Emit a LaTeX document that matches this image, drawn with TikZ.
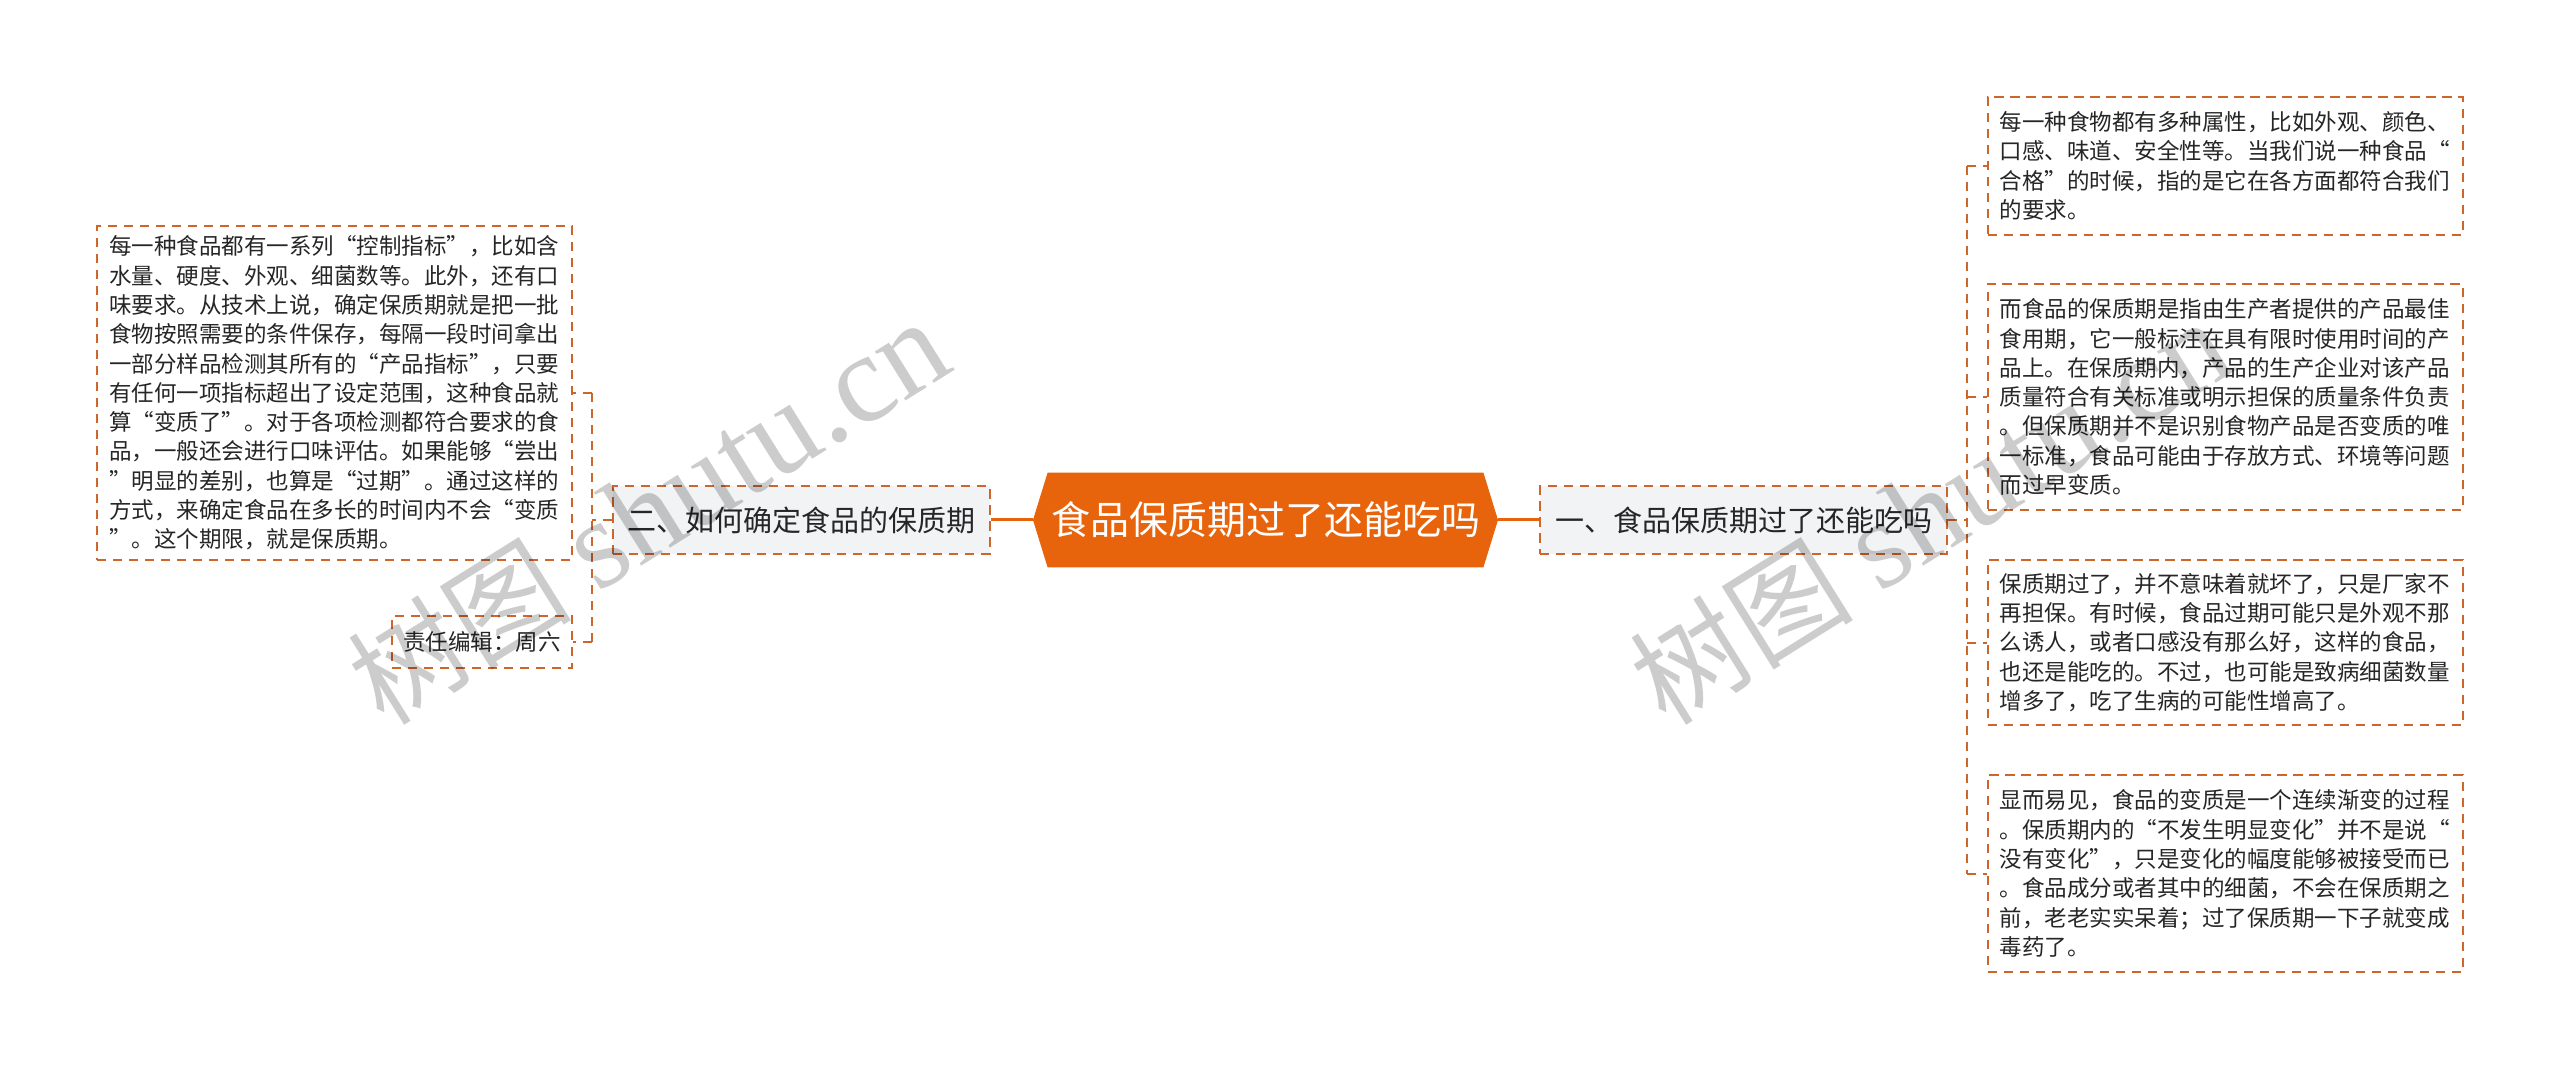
\documentclass[tikz,border=0pt]{standalone}
\usepackage{fontspec}
\setmainfont{Noto Sans CJK SC}[RawFeature=+fwid]
\newfontfamily\wmfont{Liberation Serif}
\usetikzlibrary{calc}
\pgfdeclarelayer{bg}
\pgfsetlayers{bg,main}
\definecolor{orangec}{RGB}{232,100,12}
\definecolor{borderc}{RGB}{204,102,45}
\definecolor{branchfill}{RGB}{241,243,245}
\definecolor{textc}{RGB}{38,38,38}
\newcommand\leaffont{\fontsize{11.25pt}{14.65pt}\selectfont}
\newcommand\branchfont{\fontsize{14.5pt}{17pt}\selectfont}
\newcommand\rootfont{\fontsize{19.5pt}{22pt}\selectfont}
\newcommand\wmtext{树图\hspace{14pt}{\wmfont\fontsize{63pt}{68pt}\selectfont shutu.cn}}
\tikzset{
  dashbox/.style={draw=borderc, line width=1pt, dash pattern=on 4.7pt off 3.3pt, inner sep=0pt},
  leaf/.style={dashbox, fill=white, text=textc, font=\leaffont, align=left,
    inner xsep=6pt, text width=225.5pt},
  smallleaf/.style={dashbox, fill=white, text=textc, font=\leaffont,
    minimum width=90pt, minimum height=26pt},
  branch/.style={dashbox, fill=branchfill, text=textc, font=\branchfont, minimum height=33.5pt},
  rootnode/.style={inner sep=0pt, minimum width=217.5pt, minimum height=47pt,
    text=white, font=\rootfont},
  mainconn/.style={draw=orangec, line width=1.5pt},
  dconn/.style={draw=borderc, line width=1pt, dash pattern=on 4.7pt off 3.3pt},
  wm/.style={text=black, text opacity=0.2, font=\fontsize{56pt}{60pt}\selectfont, inner sep=0pt}
}
\begin{document}
\begin{tikzpicture}[x=0.5pt, y=-0.5pt]
\useasboundingbox (0,0) rectangle (2560,1069);

% root
\node[rootnode] (root) at (1265.5,520) {食品保质期过了还能吃吗};
\coordinate (rootW) at (1033,520);
\coordinate (rootE) at (1498,520);
\begin{pgfonlayer}{bg}
\fill[white] (0,0) rectangle (2560,1069);
\fill[orangec] (root.north west) -- (root.north east) -- (rootE) -- (root.south east)
  -- (root.south west) -- (rootW) -- cycle;
\end{pgfonlayer}

% branches
\node[branch, minimum width=203.5pt] (B1) at (1743.5,520) {一、食品保质期过了还能吃吗};
\node[branch, minimum width=188.5pt] (B2) at (801.5,520) {二、如何确定食品的保质期};

% right leaves
\node[leaf, minimum height=69pt] (R1) at (2225,166) {每一种食物都有多种属性，比如外观、颜色、\\口感、味道、安全性等。当我们说一种食品“\\合格”的时候，指的是它在各方面都符合我们\\的要求。};
\node[leaf, minimum height=113pt] (R2) at (2225,397) {而食品的保质期是指由生产者提供的产品最佳\\食用期，它一般标注在具有限时使用时间的产\\品上。在保质期内，产品的生产企业对该产品\\质量符合有关标准或明示担保的质量条件负责\\。但保质期并不是识别食物产品是否变质的唯\\一标准，食品可能由于存放方式、环境等问题\\而过早变质。};
\node[leaf, minimum height=82.5pt] (R3) at (2225,642.5) {保质期过了，并不意味着就坏了，只是厂家不\\再担保。有时候，食品过期可能只是外观不那\\么诱人，或者口感没有那么好，这样的食品，\\也还是能吃的。不过，也可能是致病细菌数量\\增多了，吃了生病的可能性增高了。};
\node[leaf, minimum height=98.5pt] (R4) at (2225,873.5) {显而易见，食品的变质是一个连续渐变的过程\\。保质期内的“不发生明显变化”并不是说“\\没有变化”，只是变化的幅度能够被接受而已\\。食品成分或者其中的细菌，不会在保质期之\\前，老老实实呆着；过了保质期一下子就变成\\毒药了。};

% left leaves
\node[leaf, minimum height=167pt] (L1) at (334.5,393) {每一种食品都有一系列“控制指标”，比如含\\水量、硬度、外观、细菌数等。此外，还有口\\味要求。从技术上说，确定保质期就是把一批\\食物按照需要的条件保存，每隔一段时间拿出\\一部分样品检测其所有的“产品指标”，只要\\有任何一项指标超出了设定范围，这种食品就\\算“变质了”。对于各项检测都符合要求的食\\品，一般还会进行口味评估。如果能够“尝出\\”明显的差别，也算是“过期”。通过这样的\\方式，来确定食品在多长的时间内不会“变质\\”。这个期限，就是保质期。};
\node[smallleaf] (L2) at (482,642) {责任编辑：周六};

% connectors
\draw[mainconn] (rootW) -- (B2.east);
\draw[mainconn] (rootE) -- (B1.west);

\coordinate (rj) at (1967,520);
\draw[dconn] (B1.east) -- (rj);
\draw[dconn] (rj |- R1.west) -- (rj |- R4.west);
\foreach \n in {R1,R2,R3,R4} {\draw[dconn] (rj |- \n.west) -- (\n.west);}

\coordinate (lj) at (592,520);
\draw[dconn] (B2.west) -- (lj);
\draw[dconn] (lj |- L1.east) -- (lj |- L2.east);
\foreach \n in {L1,L2} {\draw[dconn] (lj |- \n.east) -- (\n.east);}

% watermarks
\node[wm, rotate=32] (wm1) at (648,512) {\wmtext};
\node[wm, rotate=32] (wm2) at (1930,512) {\wmtext};
\end{tikzpicture}
\end{document}
